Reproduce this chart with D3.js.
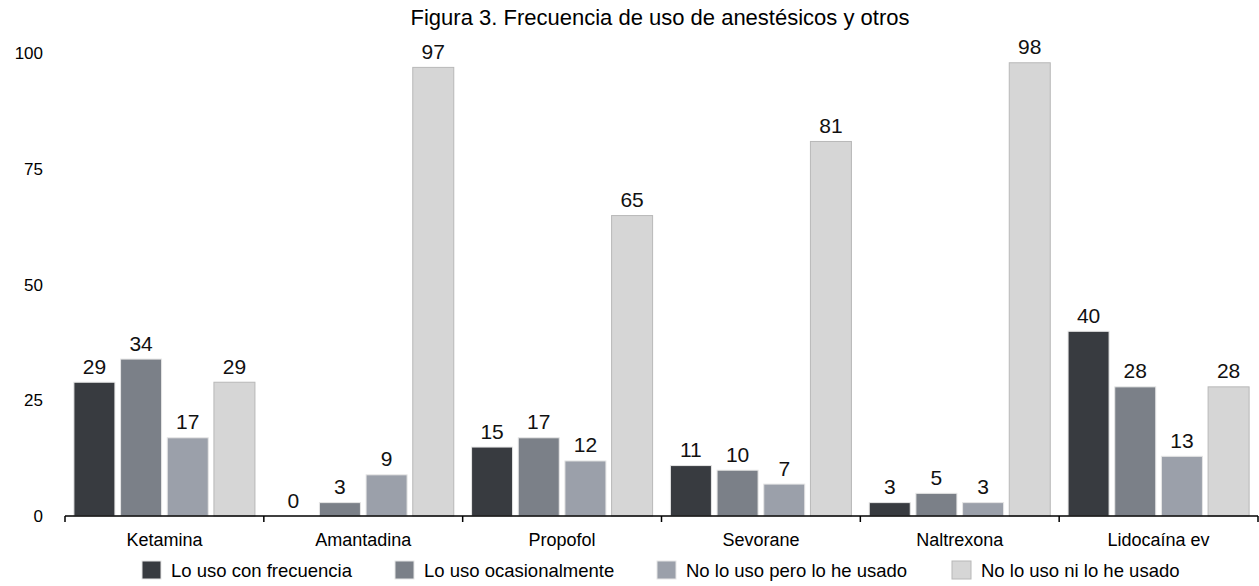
<!DOCTYPE html>
<html><head><meta charset="utf-8">
<script src="https://cdn.jsdelivr.net/npm/d3@7"></script>
<style>body{margin:0;background:#fff}text{font-family:"Liberation Sans",Arial,Helvetica,sans-serif}</style>
</head><body><svg id="c" width="1259" height="586"></svg>
<script>
const categories = ["Ketamina","Amantadina","Propofol","Sevorane","Naltrexona","Lidocaína ev"];
const seriesNames = ["Lo uso con frecuencia","Lo uso ocasionalmente","No lo uso pero lo he usado","No lo uso ni lo he usado"];
const frecuencia = [29,0,15,11,3,40];
const ocasional = [34,3,17,10,5,28];
const peroUsado = [17,9,12,7,3,13];
const niUsado = [29,97,65,81,98,28];
const yTicks = [0,25,50,75,100];
const colors = ["#383b40","#7b8088","#9ba0aa","#d6d6d6"];
const strokes = ["#e6e6e6","#e6e6e6","#e6e6e6","#b8b8b8"];
const series = [frecuencia, ocasional, peroUsado, niUsado];

const svg = d3.select("#c");
const x = d3.scaleBand().domain(categories).range([65,1258]).paddingInner(0).paddingOuter(0);
const x1 = d3.scaleBand().domain(d3.range(4)).range([0,x.bandwidth()]).paddingInner(0.1).paddingOuter(0.18);
const y = d3.scaleLinear().domain([0,100]).range([516,53]);

svg.append("text").attr("x",660).attr("y",25).attr("text-anchor","middle").attr("font-size",22).text("Figura 3. Frecuencia de uso de anestésicos y otros");

// y tick labels
svg.selectAll(".yl").data(yTicks).enter().append("text")
  .attr("x",43).attr("y",d=>y(d)+6).attr("text-anchor","end").attr("font-size",17).text(d=>d);

// bars
categories.forEach((c,i)=>{
  series.forEach((s,j)=>{
    const v = s[i];
    const bx = x(c)+x1(j);
    if(v>0){
      svg.append("rect").attr("x",bx+0.5).attr("y",y(v)+0.5).attr("width",x1.bandwidth()-1).attr("height",y(0)-y(v)-0.5)
        .attr("fill",colors[j]).attr("stroke",strokes[j]).attr("stroke-width",1);
    }
    svg.append("text").attr("x",bx+x1.bandwidth()/2).attr("y",y(v)-8).attr("text-anchor","middle").attr("font-size",21).attr("fill","#111").text(v);
  });
});

// x axis
const xa = svg.append("g").attr("transform","translate(0,516)");
xa.append("line").attr("x1",65).attr("x2",1258).attr("stroke","#000").attr("stroke-width",1.5);
const edges = categories.map(c=>x(c)).concat([x.range()[1]]);
xa.selectAll(".tk").data(edges).enter().append("line").attr("x1",d=>d).attr("x2",d=>d).attr("y1",0).attr("y2",6).attr("stroke","#000").attr("stroke-width",1.5);
xa.selectAll(".cl").data(categories).enter().append("text").attr("x",d=>x(d)+x.bandwidth()/2).attr("y",30).attr("text-anchor","middle").attr("font-size",18).text(d=>d);

// legend
const legX = [142,395,657,952];
const lg = svg.selectAll(".lg").data(seriesNames).enter().append("g").attr("transform",(d,i)=>`translate(${legX[i]},561)`);
lg.append("rect").attr("width",19).attr("height",18).attr("fill",(d,i)=>colors[i]).attr("stroke",(d,i)=>strokes[i]);
lg.append("text").attr("x",29).attr("y",16).attr("font-size",18.5).text(d=>d);
</script></body></html>
